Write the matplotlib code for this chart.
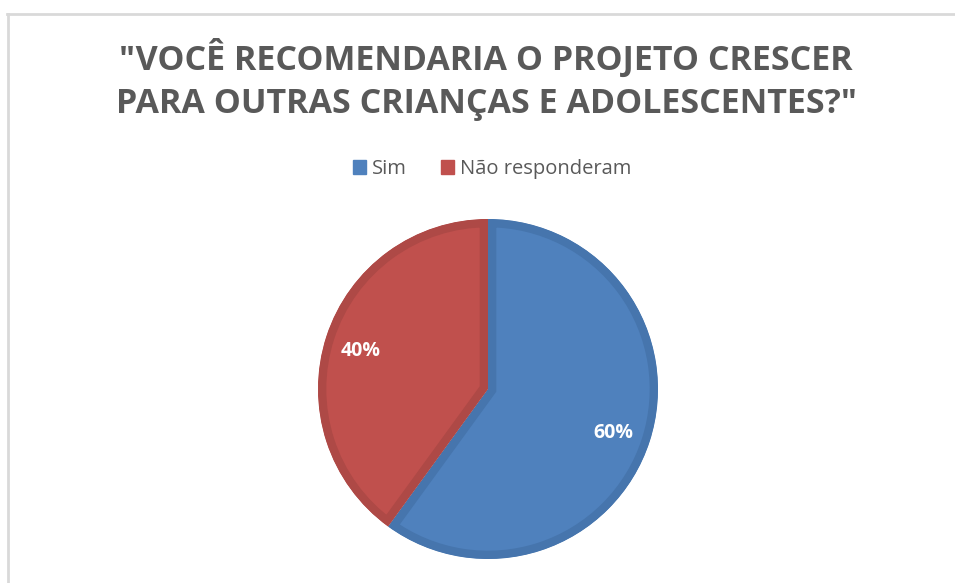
import matplotlib
matplotlib.use('Agg')
import matplotlib.pyplot as plt
from matplotlib.patches import Patch
from matplotlib.lines import Line2D

# Data
labels = ['Sim', 'Não responderam']
values = [60, 40]
face_colors = ['#4F81BD', '#C0504D']
edge_colors = ['#4675AD', '#AE4946']
title = '"VOCÊ RECOMENDARIA O PROJETO CRESCER\nPARA OUTRAS CRIANÇAS E ADOLESCENTES?"'

plt.rcParams['font.family'] = ['Open Sans', 'DejaVu Sans']

W, H = 955, 583
fig = plt.figure(figsize=(W / 100, H / 100), dpi=100)
fig.patch.set_facecolor('white')

# light frame (top and left visible)
fig.add_artist(Line2D([7 / W, 1], [1 - 13.5 / H] * 2, color='#D9D9D9', lw=2))
fig.add_artist(Line2D([7.5 / W] * 2, [0, 1 - 13.5 / H], color='#D9D9D9', lw=2))

fig.text(486 / W, 1 - 80 / H, title, ha='center', va='center',
         fontsize=24.5, fontweight='bold', color='#595959', linespacing=1.36)

# pie axes: center (488, 389), radius 170 px
cx, cy, r = 488, 389, 170
ax = fig.add_axes([(cx - r) / W, (H - cy - r) / H, 2 * r / W, 2 * r / H])
wedges, texts, autotexts = ax.pie(
    values, colors=face_colors, startangle=90, counterclock=False,
    radius=1, autopct='%d%%', pctdistance=0.78,
    textprops=dict(color='white', fontsize=14, fontweight='bold'),
    wedgeprops=dict(linewidth=12))
for w, ec in zip(wedges, edge_colors):
    # keep the border inside each slice
    w.set_edgecolor(ec)
    w.set_clip_on(True)
    w.set_clip_path(w)
for t in texts:
    t.set_visible(False)
for t in autotexts:
    x, y = t.get_position()
    t.set_position((x - 0.005, y - 0.02))
ax.set_xlim(-1, 1)
ax.set_ylim(-1, 1)
ax.axis('off')

handles = [Patch(facecolor=c, edgecolor=c) for c in face_colors]
fig.legend(handles, labels, ncol=2, loc='center',
           bbox_to_anchor=(492 / W, 1 - 169 / H), frameon=False,
           fontsize=14.5, labelcolor='#595959', handlelength=0.65,
           handleheight=0.65, handletextpad=0.3, columnspacing=1.7)

fig.savefig('out.png', dpi=100)
